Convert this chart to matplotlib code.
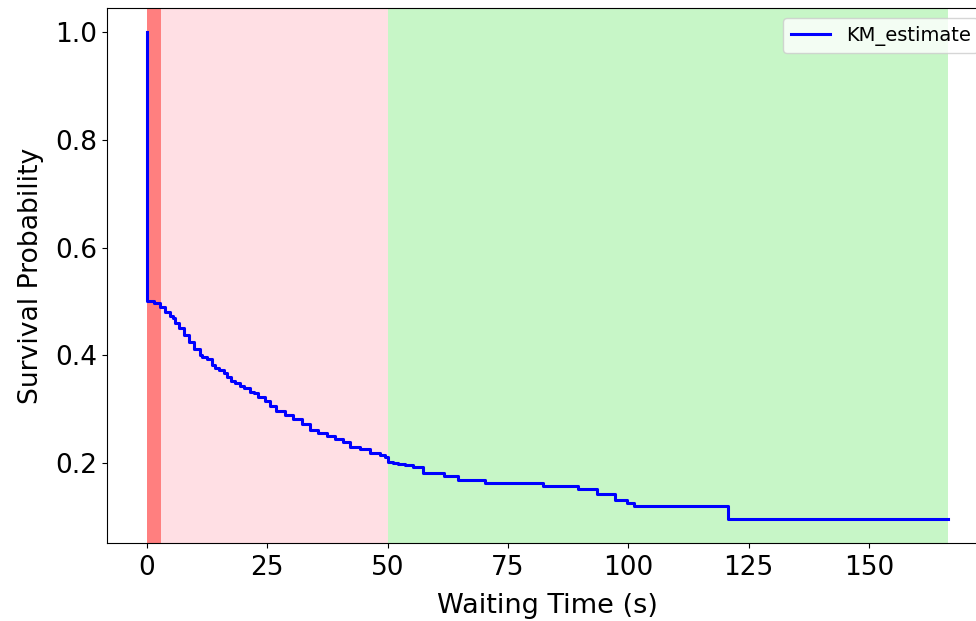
import matplotlib
matplotlib.use("Agg")
import matplotlib.pyplot as plt

# Kaplan-Meier estimate
times = [0, 0, 1.4, 2.8, 3.8, 4.85, 5.5, 5.9, 6.6, 7.6, 8.7, 9.7, 11.1, 11.4,
         12.5, 13.5, 14.1, 14.9, 15.9, 16.6, 17.5, 18.3, 19.3, 20.1, 21.4, 22.2,
         23.1, 24.5, 25.6, 26.9, 28.7, 30.4, 32.1, 33.9, 35.6, 37.3, 39.1, 40.8,
         42.2, 44.3, 46.3, 48.4, 49.5, 50.1, 51.2, 52.2, 53.6, 55.3, 57.4, 59.5,
         61.6, 64.7, 70.2, 82.3, 89.6, 93.4, 97.2, 99.7, 101.1, 120.8, 166.4]
surv = [1.0, 0.5, 0.496, 0.490, 0.481, 0.472, 0.469, 0.459, 0.450, 0.438, 0.425,
        0.412, 0.400, 0.397, 0.393, 0.382, 0.376, 0.373, 0.366, 0.360, 0.352,
        0.348, 0.342, 0.339, 0.332, 0.329, 0.323, 0.314, 0.305, 0.297, 0.289,
        0.281, 0.272, 0.261, 0.255, 0.249, 0.244, 0.238, 0.230, 0.226, 0.218,
        0.215, 0.210, 0.201, 0.1995, 0.198, 0.196, 0.192, 0.181, 0.180, 0.175,
        0.168, 0.162, 0.156, 0.151, 0.142, 0.130, 0.125, 0.120, 0.096, 0.096]

# shaded zones (start, end, colour)
zones = [(0, 3, "red"), (3, 50, "pink"), (50, 166.4, "lightgreen")]

fig = plt.figure(figsize=(9.76, 6.21), dpi=100)
# axes run past the right edge of the picture, as in the reference crop
ax = fig.add_axes([0.1096, 0.1256, 0.9027, 0.8615])

for x0, x1, c in zones:
    ax.axvspan(x0, x1, color=c, alpha=0.5, lw=0)

ax.plot(times, surv, drawstyle="steps-post", color="blue", lw=2.2, label="KM_estimate")

ax.set_xlabel("Waiting Time (s)", fontsize=19.5, labelpad=9)
ax.set_ylabel("Survival Probability", fontsize=19.2, labelpad=8)
ax.tick_params(labelsize=19)
ax.tick_params(axis="x", pad=5)
ax.set_xticks([0, 25, 50, 75, 100, 125, 150])
ax.set_yticks([0.2, 0.4, 0.6, 0.8, 1.0])
ax.legend(loc="upper right", fontsize=14)

fig.savefig("out.png", dpi=100)
